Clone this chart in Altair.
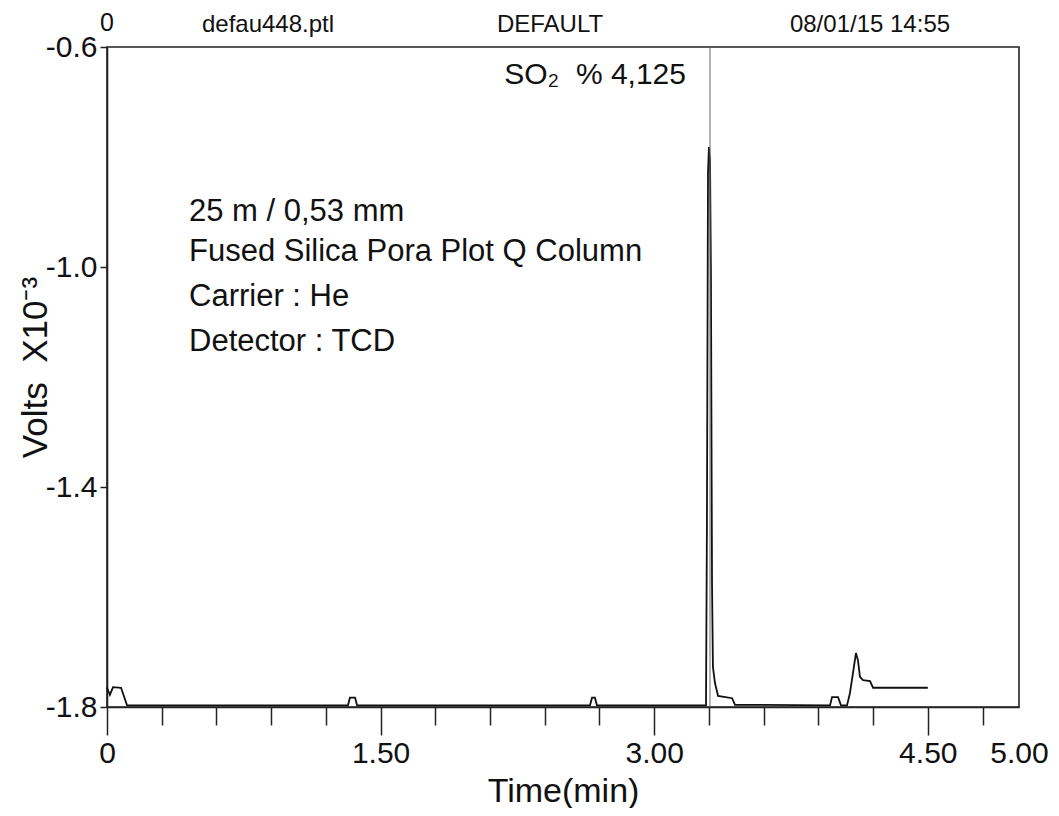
import altair as alt
import pandas as pd

# ---- data ----
time_min = [0.000, 0.016, 0.033, 0.077, 0.110, 1.321, 1.332, 1.360, 1.371,
            2.648, 2.659, 2.675, 2.686, 3.284, 3.289, 3.295, 3.300, 3.306,
            3.311, 3.317, 3.322, 3.333, 3.350, 3.427, 3.443, 3.964, 3.975,
            4.008, 4.024, 4.057, 4.073, 4.090, 4.106, 4.117, 4.128, 4.145,
            4.183, 4.200, 4.500]
volts_e3 = [-1.765, -1.778, -1.764, -1.765, -1.797, -1.797, -1.783, -1.783, -1.797,
            -1.797, -1.783, -1.783, -1.797, -1.797, -1.473, -0.829, -0.782, -0.805,
            -1.011, -1.575, -1.727, -1.756, -1.780, -1.784, -1.796, -1.797, -1.782,
            -1.782, -1.797, -1.797, -1.775, -1.738, -1.702, -1.715, -1.745, -1.751,
            -1.753, -1.765, -1.765]

x_minor_ticks = [0.3, 0.6, 0.9, 1.2, 1.8, 2.1, 2.4, 2.7, 3.3, 3.6, 3.9, 4.2, 4.8]
x_major_ticks = [0, 1.5, 3.0, 4.5, 5.0]
y_ticks = [-1.8, -1.4, -1.0, -0.6]
peak_marker_time = [3.306]

header_labels = ["0", "defau448.ptl", "DEFAULT", "08/01/15 14:55"]
column_info = ["25 m / 0,53 mm", "Fused Silica Pora Plot Q Column",
               "Carrier : He", "Detector : TCD"]
peak_label = ["SO\u2082\u00A0\u00A0% 4,125"]
y_title = "Volts\u00A0\u00A0X10\u207B\u00B3"
x_title = "Time(min)"

FONT = "Liberation Sans"

trace_df = pd.DataFrame({"t": time_min, "v": volts_e3})
marker_df = pd.DataFrame({"t": peak_marker_time})

x_scale = alt.Scale(domain=[0, 5], nice=False, zero=False)
y_scale = alt.Scale(domain=[-1.8, -0.6], nice=False, zero=False)

trace = alt.Chart(trace_df).mark_line(color="#111111", strokeWidth=1.8, interpolate="linear").encode(
    x=alt.X("t:Q", scale=x_scale,
            axis=alt.Axis(orient="bottom", values=x_minor_ticks, labels=False, title=None,
                          tickSize=18, tickWidth=1.5, tickColor="#222",
                          domain=True, domainColor="#222", domainWidth=1.6, grid=False)),
    y=alt.Y("v:Q", scale=y_scale,
            axis=alt.Axis(values=y_ticks, tickSize=7, tickWidth=1.5, tickColor="#222",
                          domainColor="#222", domainWidth=1.6, grid=False,
                          labelExpr="'-' + format(abs(datum.value), '.1f')",
                          labelFontSize=30, labelColor="#111", labelPadding=3,
                          labelFont=FONT,
                          title=y_title, titleFontSize=35, titleFont=FONT,
                          titleFontWeight="normal", titleColor="#111",
                          titleX=-72, titleY=320, titleAngle=-90, titleBaseline="middle",
                          titleAlign="center")),
    order=alt.Order("t:Q"),
)

marker = alt.Chart(marker_df).mark_rule(color="#666666", strokeWidth=1).encode(
    x=alt.X("t:Q", scale=x_scale,
            axis=alt.Axis(orient="bottom", values=x_major_ticks, tickSize=28, tickWidth=1.5,
                          tickColor="#222", domain=False, grid=False,
                          tickOpacity={"condition": {"test": "datum.value == 5", "value": 0}, "value": 1},
                          labelExpr="datum.value == 0 ? '0' : format(datum.value, '.2f')",
                          labelFontSize=30, labelColor="#111", labelPadding=3, labelFlush=False,
                          labelFont=FONT,
                          title=x_title, titleFontSize=34, titleFont=FONT,
                          titleFontWeight="normal", titleColor="#111",
                          titleY=84, titleBaseline="middle")),
)

def label(text, x, y, size, align="center"):
    return alt.Chart(pd.DataFrame({"s": [text]})).mark_text(
        font=FONT, fontSize=size, color="#111", align=align, baseline="middle"
    ).encode(text="s:N", x=alt.value(x), y=alt.value(y))

texts = [
    label(header_labels[0], 0, -24, 25),
    label(header_labels[1], 161, -22, 24),
    label(header_labels[2], 443, -22, 24),
    label(header_labels[3], 763, -22, 24),
    label(peak_label[0], 579, 28, 30, align="right"),
    label(column_info[0], 82, 165, 31, align="left"),
    label(column_info[1], 82, 205, 31, align="left"),
    label(column_info[2], 82, 250, 31, align="left"),
    label(column_info[3], 82, 295, 31, align="left"),
]

chart = alt.layer(trace, marker, *texts).resolve_axis(x="independent").properties(
    width=912, height=660,
    padding={"left": 99, "top": 39, "right": 32, "bottom": 101},
    autosize=alt.AutoSizeParams(type="none"),
    background="white",
).configure_view(stroke="#222", strokeWidth=1.6)

chart.save("out.html", embed_options={"renderer": "svg", "actions": False})
